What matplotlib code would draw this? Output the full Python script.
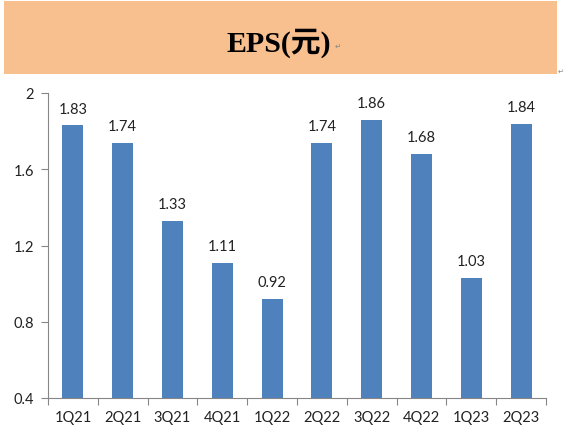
import matplotlib
matplotlib.use("Agg")
import matplotlib.pyplot as plt
import numpy as np

quarters = ["1Q21", "2Q21", "3Q21", "4Q21", "1Q22", "2Q22", "3Q22", "4Q22", "1Q23", "2Q23"]
eps = [1.83, 1.74, 1.33, 1.11, 0.92, 1.74, 1.86, 1.68, 1.03, 1.84]
yticks = [0.4, 0.8, 1.2, 1.6, 2]

fig = plt.figure(figsize=(5.63, 4.35), dpi=100)

# title banner
banner = fig.add_axes([4 / 563, 1 - 75 / 435, 553 / 563, 73 / 435])
banner.set_facecolor("#F9C08F")
banner.set_xticks([])
banner.set_yticks([])
for s in banner.spines.values():
    s.set_visible(False)
banner.text(0.497, 0.44, "EPS(元)", ha="center", va="center", fontsize=21.5,
            fontweight="bold", family=["Liberation Serif", "Noto Sans CJK SC"])
banner.text(0.598, 0.39, "↵", ha="left", va="center", fontsize=5.5, color="#888888",
            family="DejaVu Sans")
fig.text(558 / 563, 1 - 72 / 435, "↵", ha="left", va="center", fontsize=5, color="#888888")

ax = fig.add_axes([48 / 563, 1 - 399 / 435, 498 / 563, 305 / 435])
x = np.arange(len(quarters))
ax.bar(x, eps, width=0.42, color="#4F81BD")
ax.set_xlim(-0.5, len(quarters) - 0.5)
ax.set_ylim(0.4, 2)
ax.set_yticks(yticks)
ax.set_yticklabels(["0.4", "0.8", "1.2", "1.6", "2"])
ax.set_xticks(x)
ax.set_xticklabels(quarters)
ax.set_xticks(np.arange(-0.5, len(quarters), 1), minor=True)

for xi, v in zip(x, eps):
    ax.text(xi, v + 0.05, f"{v:.2f}", ha="center", va="bottom", fontsize=10.5,
            family="Lato", color="#222222")

for name in ["top", "right"]:
    ax.spines[name].set_visible(False)
for name in ["left", "bottom"]:
    ax.spines[name].set_color("#868686")
    ax.spines[name].set_linewidth(0.8)
ax.tick_params(axis="x", which="major", length=0, pad=9)
ax.tick_params(axis="x", which="minor", length=5, color="#868686", width=0.8)
ax.tick_params(axis="y", length=5, color="#868686", width=0.8, pad=5)
for lbl in ax.get_xticklabels() + ax.get_yticklabels():
    lbl.set_family("Lato")
    lbl.set_fontsize(10.5)
    lbl.set_color("#222222")

fig.savefig("out.png", dpi=100)
